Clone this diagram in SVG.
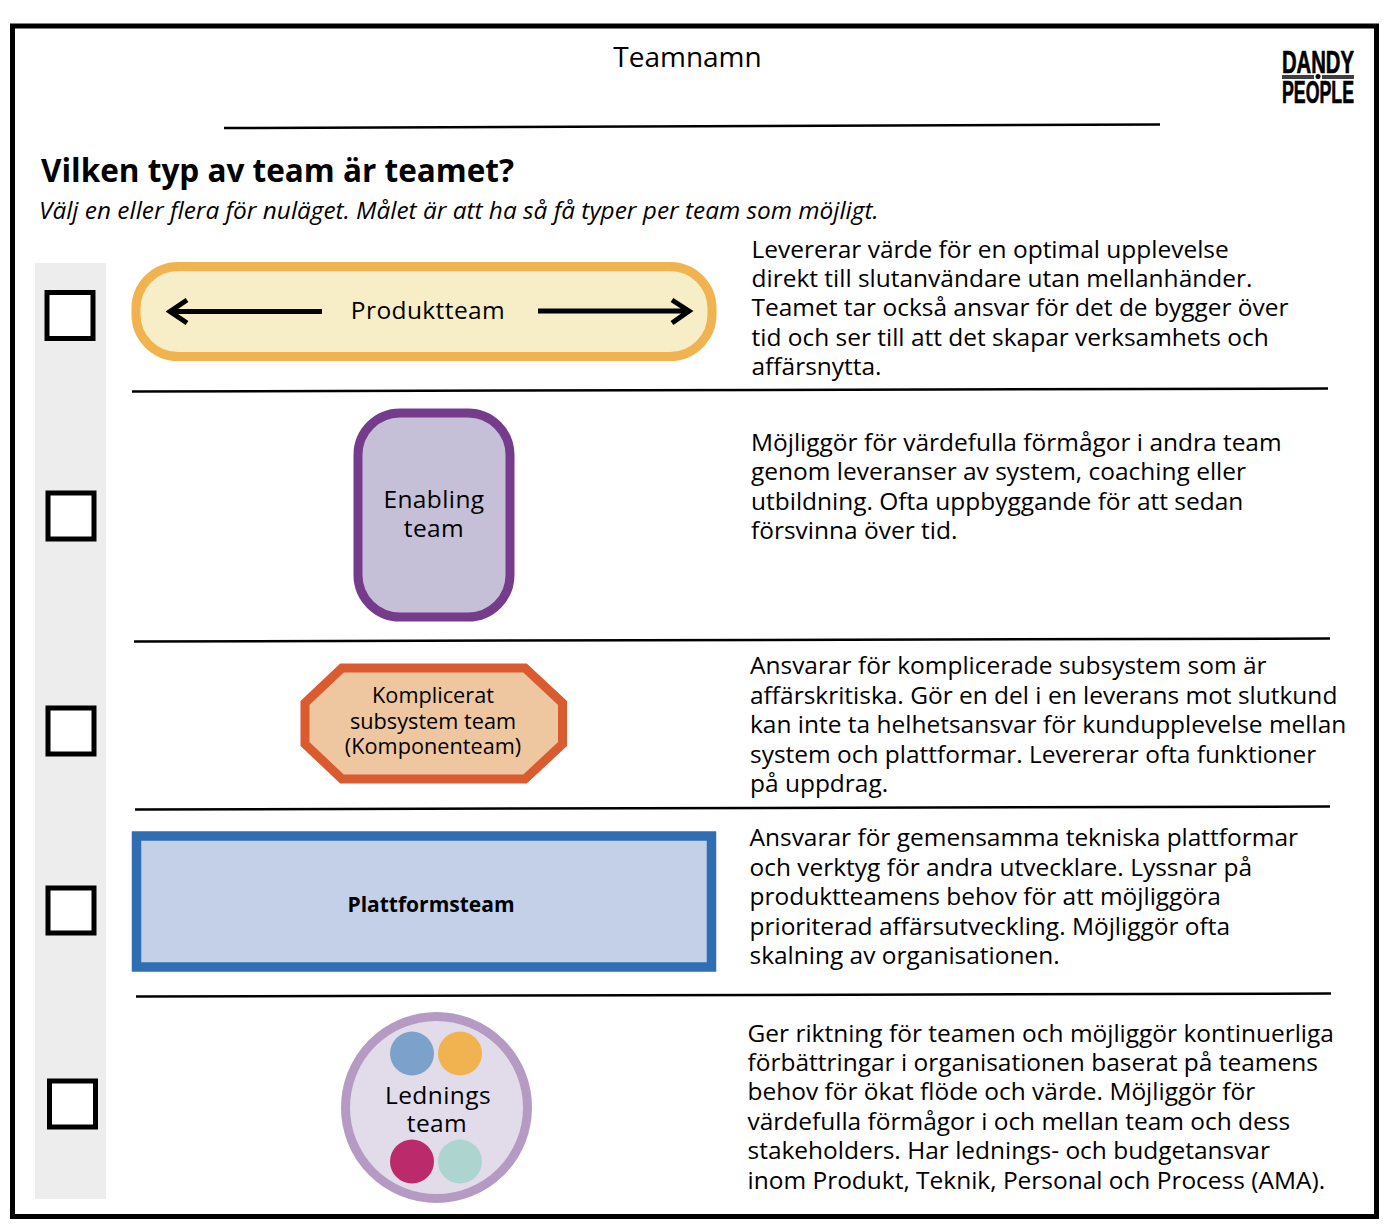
<svg xmlns="http://www.w3.org/2000/svg" width="1394" height="1232" viewBox="0 0 1394 1232">
<style>
text{font-family:"Open Sans","Noto Sans",sans-serif;fill:#000}
.b{font-size:24.48px}
.l{font-size:24.5px;text-anchor:middle;letter-spacing:.4px}
.c{fill:#fff;stroke:#000;stroke-width:5}
.s{stroke:#000;stroke-width:2.5;fill:none}
.a{stroke:#000;stroke-width:5;fill:none}
.logo{font-family:"Liberation Sans",sans-serif;font-weight:700;font-size:32px;stroke:#000;stroke-width:.7}
.k{font-size:21.700px;text-anchor:middle}
</style>
<rect x="0" y="0" width="1394" height="1232" fill="#fff"/>
<rect x="12.500" y="26" width="1364" height="1190.500" fill="none" stroke="#000" stroke-width="5"/>
<g id="header">
<text x="687.500" y="67" font-size="28" text-anchor="middle">Teamnamn</text>
<path d="M224 128L1160 124.500" class="s"/>
<text x="41" y="182" font-size="31.500" font-weight="700">Vilken typ av team är teamet?</text>
<text x="39" y="219" font-size="24.390" font-style="italic">Välj en eller flera för nuläget. Målet är att ha så få typer per team som möjligt.</text>
</g>
<g id="logo">
<text class="logo" x="1282" y="73" textLength="72" lengthAdjust="spacingAndGlyphs">DANDY</text>
<path d="M1282 76H1314M1322 76H1354M1282 78H1314M1322 78H1354" stroke="#000" stroke-width="1.300"/>
<circle cx="1318" cy="76.500" r="2.500" fill="#000"/>
<text class="logo" x="1282" y="103" textLength="72" lengthAdjust="spacingAndGlyphs">PEOPLE</text>
</g>
<rect id="checkbar" x="35" y="263" width="71" height="936" fill="#ededed"/>
<g id="checkboxes">
<rect class="c" x="47" y="292.500" width="46" height="46"/>
<rect class="c" x="48" y="493" width="46" height="46"/>
<rect class="c" x="48" y="708" width="46" height="46"/>
<rect class="c" x="48" y="888" width="46" height="45"/>
<rect class="c" x="49.500" y="1081" width="46" height="46"/>
</g>
<g id="produktteam">
<rect x="136" y="266.500" width="576" height="90" rx="42" ry="42" fill="#f7edc6" stroke="#f0b34f" stroke-width="9"/>
<text class="l" x="428" y="319">Produktteam</text>
</g>
<g id="enabling">
<rect x="358" y="413" width="152" height="204" rx="42" ry="42" fill="#c5bfd8" stroke="#763c8c" stroke-width="9"/>
<text class="l" x="434" y="508">Enabling</text>
<text class="l" x="434" y="537">team</text>
</g>
<g id="komplicerat">
<polygon points="342,668 525,668 562.500,703 562.500,744 525,779 342,779 305,744 305,703" fill="#eec6a0" stroke="#da5b30" stroke-width="9"/>
<text class="k" x="433" y="703">Komplicerat</text>
<text class="k" x="433" y="729">subsystem team</text>
<text class="k" x="433" y="754">(Komponenteam)</text>
</g>
<g id="plattform">
<rect x="136.500" y="836" width="575" height="131" fill="#c3d0e8" stroke="#2f6eb3" stroke-width="9.500"/>
<text x="431" y="912" font-size="21" font-weight="700" text-anchor="middle">Plattformsteam</text>
</g>
<g id="lednings">
<circle cx="436.500" cy="1107.500" r="91" fill="#e2dcea" stroke="#b59ac4" stroke-width="9"/>
<circle cx="412" cy="1053.500" r="22" fill="#7ca2cb"/>
<circle cx="460" cy="1053.500" r="22" fill="#f0b34f"/>
<circle cx="412" cy="1161.500" r="22" fill="#bb2a6b"/>
<circle cx="460" cy="1161.500" r="22" fill="#aed4d0"/>
<text class="l" x="438" y="1104">Lednings</text>
<text class="l" x="437" y="1132">team</text>
</g>
<g id="connectors">
<path class="s" d="M132 391.500L1328 388.500"/>
<path class="s" d="M134 641.500L1330 638.500"/>
<path class="s" d="M135 809.500L1330 806.500"/>
<path class="s" d="M136 996.500L1331 993.500"/>
<path class="a" d="M322 311.500H170M187 300L170 311.500L187 323"/>
<path class="a" d="M538 311H689M672 300L689 311L672 323"/>
</g>
<g id="desc1"><text class="b" x="751.500" y="258">Levererar värde för en optimal upplevelse</text><text class="b" x="751.500" y="287">direkt till slutanvändare utan mellanhänder.</text><text class="b" x="751.500" y="316">Teamet tar också ansvar för det de bygger över</text><text class="b" x="751.500" y="346">tid och ser till att det skapar verksamhets och</text><text class="b" x="751.500" y="375">affärsnytta.</text></g>
<g id="desc2"><text class="b" x="751" y="451">Möjliggör för värdefulla förmågor i andra team</text><text class="b" x="751" y="480">genom leveranser av system, coaching eller</text><text class="b" x="751" y="510">utbildning. Ofta uppbyggande för att sedan</text><text class="b" x="751" y="539">försvinna över tid.</text></g>
<g id="desc3"><text class="b" x="750" y="674">Ansvarar för komplicerade subsystem som är</text><text class="b" x="750" y="704">affärskritiska. Gör en del i en leverans mot slutkund</text><text class="b" x="750" y="733">kan inte ta helhetsansvar för kundupplevelse mellan</text><text class="b" x="750" y="763">system och plattformar. Levererar ofta funktioner</text><text class="b" x="750" y="792">på uppdrag.</text></g>
<g id="desc4"><text class="b" x="749.500" y="846">Ansvarar för gemensamma tekniska plattformar</text><text class="b" x="749.500" y="876">och verktyg för andra utvecklare. Lyssnar på</text><text class="b" x="749.500" y="905">produktteamens behov för att möjliggöra</text><text class="b" x="749.500" y="935">prioriterad affärsutveckling. Möjliggör ofta</text><text class="b" x="749.500" y="964">skalning av organisationen.</text></g>
<g id="desc5"><text class="b" x="747.500" y="1042">Ger riktning för teamen och möjliggör kontinuerliga</text><text class="b" x="747.500" y="1071">förbättringar i organisationen baserat på teamens</text><text class="b" x="747.500" y="1100">behov för ökat flöde och värde. Möjliggör för</text><text class="b" x="747.500" y="1130">värdefulla förmågor i och mellan team och dess</text><text class="b" x="747.500" y="1159">stakeholders. Har lednings- och budgetansvar</text><text class="b" x="747.500" y="1189">inom Produkt, Teknik, Personal och Process (AMA).</text></g>
</svg>
